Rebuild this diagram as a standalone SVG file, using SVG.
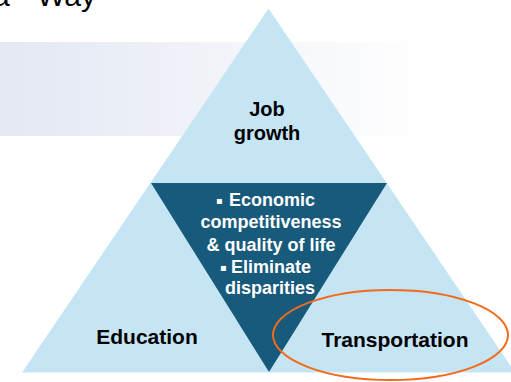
<svg xmlns="http://www.w3.org/2000/svg" width="511" height="382" viewBox="0 0 511 382">
  <defs>
    <linearGradient id="band" x1="0" y1="0" x2="1" y2="0">
      <stop offset="0" stop-color="#e3e8f2"/>
      <stop offset="1" stop-color="#ffffff"/>
    </linearGradient>
    <style>
      .lbl { font-family: "Liberation Sans", Arial, sans-serif; font-weight: bold; fill: #000; text-anchor: middle; }
      .inner { font-family: "Liberation Sans", Arial, sans-serif; font-weight: bold; fill: #fff; font-size: 18px; text-anchor: middle; }
      .item { text-anchor: start; }
      .bullet { font-family: "DejaVu Sans", sans-serif; font-weight: normal; font-size: 10px; }
    </style>
  </defs>

  <rect width="511" height="382" fill="#ffffff"/>

  <!-- title fragment running off the top edge -->
  <text x="-7" y="6" font-family="'Liberation Sans', Arial, sans-serif" font-size="30" fill="#000">a<tspan x="37">Way</tspan></text>

  <!-- faded backdrop band -->
  <rect x="0" y="42" width="432" height="94" fill="url(#band)"/>

  <!-- outer triangle -->
  <g id="pyramid">
    <polygon points="268.5,8.5 22,372.5 515,372.5" fill="#c6e5f4"/>
  </g>

  <!-- centre inverted triangle with goals -->
  <g id="goals">
    <polygon points="151,183 387,183 269,372" fill="#185a7b"/>
    <text class="inner item" x="216" y="204"><tspan class="bullet">▪</tspan><tspan x="229" y="206">Economic</tspan></text>
    <text class="inner" x="271" y="228">competitiveness</text>
    <text class="inner" x="271" y="251">&amp; quality of life</text>
    <text class="inner item" x="220" y="271"><tspan class="bullet">▪</tspan><tspan x="231" y="273">Eliminate</tspan></text>
    <text class="inner" x="270" y="294">disparities</text>
  </g>

  <g id="job-growth">
    <text class="lbl" x="267" y="116" font-size="20">Job</text>
    <text class="lbl" x="267" y="140" font-size="20">growth</text>
  </g>

  <g id="education">
    <text class="lbl" x="147" y="344" font-size="21">Education</text>
  </g>

  <g id="transportation">
    <text class="lbl" x="395" y="347" font-size="21">Transportation</text>
  </g>

  <!-- highlight ring -->
  <g id="highlight">
    <ellipse cx="390.5" cy="335" rx="117.5" ry="45" fill="none" stroke="#f26a1b" stroke-width="2"/>
  </g>
</svg>
